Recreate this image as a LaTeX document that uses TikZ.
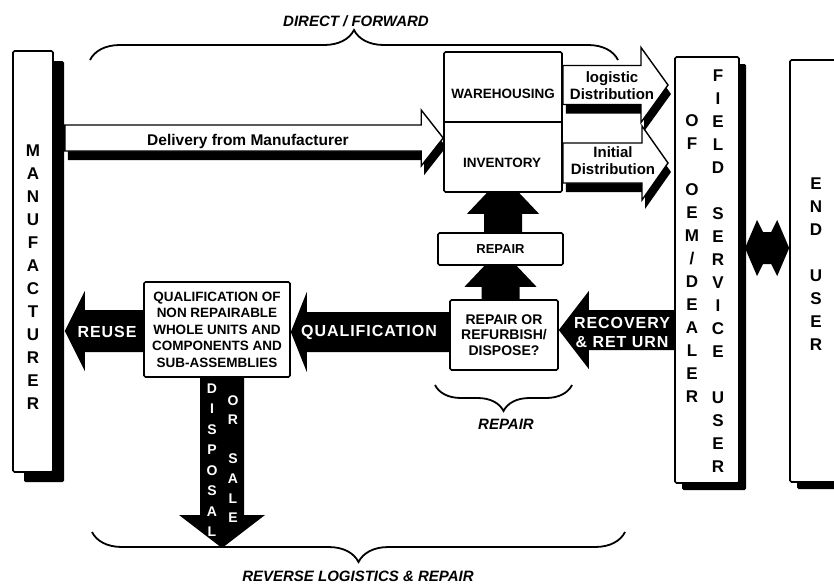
\documentclass[tikz,border=0pt]{standalone}
\usepackage{fontspec}
\setmainfont{Liberation Sans}
\newfontfamily\spacedsans[LetterSpace=6]{Liberation Sans}
\usetikzlibrary{calc,shadows,decorations.pathreplacing}
\pgfdeclarelayer{arrows}
\pgfsetlayers{arrows,main}

% horizontal block arrow: options, tail, tip, shaft half-width, head half-width, head length, dx, dy
\newcommand\hblock[8]{%
  \path[#1] let \p1=(#2), \p2=(#3), \n1={ifthenelse(\x2>\x1,1,-1)} in
    ({\x1+#7pt},{\y2-#8pt+#4pt})
    -- ({\x2-(\n1)*#6pt+#7pt},{\y2-#8pt+#4pt})
    -- ({\x2-(\n1)*#6pt+#7pt},{\y2-#8pt+#5pt})
    -- ({\x2+#7pt},{\y2-#8pt})
    -- ({\x2-(\n1)*#6pt+#7pt},{\y2-#8pt-#5pt})
    -- ({\x2-(\n1)*#6pt+#7pt},{\y2-#8pt-#4pt})
    -- ({\x1+#7pt},{\y2-#8pt-#4pt}) -- cycle;}
% vertical block arrow, same arguments
\newcommand\vblock[8]{%
  \path[#1] let \p1=(#2), \p2=(#3), \n1={ifthenelse(\y2>\y1,1,-1)} in
    ({\x2-#4pt+#7pt},{\y1-#8pt})
    -- ({\x2-#4pt+#7pt},{\y2-(\n1)*#6pt-#8pt})
    -- ({\x2-#5pt+#7pt},{\y2-(\n1)*#6pt-#8pt})
    -- ({\x2+#7pt},{\y2-#8pt})
    -- ({\x2+#5pt+#7pt},{\y2-(\n1)*#6pt-#8pt})
    -- ({\x2+#4pt+#7pt},{\y2-(\n1)*#6pt-#8pt})
    -- ({\x2+#4pt+#7pt},{\y1-#8pt}) -- cycle;}

\tikzset{
  box/.style={draw, line width=1.6pt, fill=white, rounded corners=1.5pt, inner sep=0pt},
  whitearrow/.style={draw, line width=1.4pt, fill=white, line join=miter},
  arrowshadow/.style={fill=black},
  blackarrow/.style={fill=black},
  vlet/.style={font=\bfseries\fontsize{17}{17}\selectfont, text height=12pt, text depth=0pt, inner sep=0pt},
  wlet/.style={font=\bfseries\fontsize{14}{14}\selectfont, text=white, text height=10pt, text depth=0pt, inner sep=0pt},
  boxtext/.style={font=\bfseries\fontsize{13.5}{16.5}\selectfont, align=center},
  arrowtext/.style={font=\spacedsans\bfseries\fontsize{16}{19}\selectfont, text=white, align=center, inner sep=0pt},
  disttext/.style={font=\bfseries\fontsize{15}{17}\selectfont, align=center, inner sep=0pt},
  bracelabel/.style={font=\bfseries\itshape\fontsize{15}{15}\selectfont, inner sep=0pt},
  bracedeco/.style={decorate, decoration={brace, amplitude=#1}, line width=1.8pt},
}

\begin{document}
\begin{tikzpicture}[x=1pt, y=-1pt]
\useasboundingbox (0,0) rectangle (834,584);
\clip (0,0) rectangle (834,584);

% ---------- braces and their captions
\draw[bracedeco=30pt] (90,60) -- (618,60);
\node[bracelabel] (fwdLbl) at (356,21) {DIRECT / FORWARD};
\draw[bracedeco=26pt] (572,385) -- (435,385);
\node[bracelabel] (repLbl) at (506,424) {REPAIR};
\draw[bracedeco=30pt] (625,532) -- (92,532);
\node[bracelabel] (revLbl) at (358,576) {REVERSE LOGISTICS \& REPAIR};

% ---------- boxes
\node[box, minimum width=40pt, minimum height=421pt,
      drop shadow={shadow xshift=11pt, shadow yshift=-10pt, fill=black, opacity=1}] (mfr) at (33,261.5) {};
\foreach \c [count=\i from 0] in {M,A,N,U,F,A,C,T,U,R,E,R}
  \node[vlet] (mfr\i) at (33,{150+23*\i}) {\c};
\coordinate (mfrEdge) at ($(mfr.east)+(11,0)$);

\node[box, minimum width=118pt, minimum height=140pt] (stock) at (503,122) {};
\draw[line width=1.6pt] (stock.west) -- (stock.east);
\node[boxtext] (whLbl) at (503,94) {WAREHOUSING};
\node[boxtext] (invLbl) at (502,163) {INVENTORY};

\node[box, boxtext, font=\bfseries\fontsize{13}{15}\selectfont,
      minimum width=125pt, minimum height=32pt] (repair) at (500.5,249) {REPAIR};
\node[box, boxtext, font=\bfseries\fontsize{14}{15.5}\selectfont,
      minimum width=108pt, minimum height=70pt] (rod) at (504,335) {REPAIR OR\\REFURBISH/\\DISPOSE?};
\node[box, boxtext, minimum width=146pt, minimum height=95pt] (qual) at (217,329.5)
  {QUALIFICATION OF\\NON REPAIRABLE\\WHOLE UNITS AND\\COMPONENTS AND\\SUB-ASSEMBLIES};

\node[box, minimum width=64pt, minimum height=426pt,
      drop shadow={shadow xshift=7pt, shadow yshift=-7pt, fill=black, opacity=1}] (field) at (707,270) {};
\foreach \c [count=\i from 0] in {O,F,{},O,E,M,/,D,E,A,L,E,R}
  \node[vlet] (oem\i) at (692,{120+23*\i}) {\c};
\foreach \c [count=\i from 0] in {F,I,E,L,D,{},S,E,R,V,I,C,E,{},U,S,E,R}
  \node[vlet] (fsu\i) at (718,{75+23*\i}) {\c};

\node[box, minimum width=62pt, minimum height=422pt,
      drop shadow={shadow xshift=7pt, shadow yshift=-7pt, fill=black, opacity=1}] (enduser) at (821,271) {};
\foreach \c [count=\i from 0] in {E,N,D,{},U,S,E,R}
  \node[vlet] (eu\i) at (816,{183+23*\i}) {\c};

% ---------- free ends of the block arrows
\coordinate (logTip) at (668,85);
\coordinate (initTip) at (668,163);
\coordinate (dispTip) at (222,548);
\coordinate (dblL) at (745,248);
\coordinate (dblR) at (enduser.west |- 0,248);

% ---------- block arrows (kept under the boxes)
\begin{pgfonlayer}{arrows}
  % forward flow: outlined arrows with a drop shadow
  \hblock{arrowshadow}{mfrEdge}{stock.west |- 0,138}{13}{28}{22}{3}{9}
  \hblock{whitearrow}{mfrEdge}{stock.west |- 0,138}{13}{28}{22}{0}{0}
  \hblock{arrowshadow}{stock.east}{logTip}{19.5}{37.5}{27}{3}{9}
  \hblock{whitearrow}{stock.east}{logTip}{19.5}{37.5}{27}{0}{0}
  \hblock{arrowshadow}{stock.east}{initTip}{20}{37}{26}{3}{9}
  \hblock{whitearrow}{stock.east}{initTip}{20}{37}{26}{0}{0}
  % reverse flow: solid arrows
  \hblock{blackarrow}{field.west}{rod.east |- 0,330}{20}{39}{30}{0}{0}
  \hblock{blackarrow}{rod.west}{qual.east |- 0,332}{20}{40}{16}{0}{0}
  \hblock{blackarrow}{qual.west}{mfrEdge |- 0,331}{21}{40}{20}{0}{0}
  \vblock{blackarrow}{qual.south}{dispTip}{22}{43}{33}{0}{0}
  \vblock{blackarrow}{rod.north}{$(repair.south)+(0,-17)$}{19}{36}{38}{0}{0}
  \vblock{blackarrow}{repair.north}{$(stock.south)+(0,-17)$}{19}{36}{38}{0}{0}
\end{pgfonlayer}

% two-way exchange with the end user
\fill (dblL) -- ($(dblL)+(12,-28)$) -- ($(dblL)+(18,-16)$) -- ($(dblR)+(-18,-16)$)
  -- ($(dblR)+(-12,-28)$) -- (dblR) -- ($(dblR)+(-12,28)$) -- ($(dblR)+(-18,16)$)
  -- ($(dblL)+(18,16)$) -- ($(dblL)+(12,28)$) -- cycle;

% ---------- arrow captions
\node[disttext, font=\bfseries\fontsize{15.5}{17}\selectfont] (delivLbl) at (248,141) {Delivery from Manufacturer};
\node[disttext] (logLbl) at (612,86) {logistic\\Distribution};
\node[disttext] (initLbl) at (613,161) {Initial\\Distribution};
\node[arrowtext] (recLbl) at (622,332) {RECOVERY\\\& RET URN};
\node[arrowtext] (qualLbl) at (369,332) {QUALIFICATION};
\node[arrowtext] (reuseLbl) at (107,332) {REUSE};
\foreach \c [count=\i from 0] in {D,I,S,P,O,S,A,L}
  \node[wlet] (disp\i) at (212,{388+20.5*\i}) {\c};
\foreach \c [count=\i from 0] in {O,R,{},S,A,L,E}
  \node[wlet] (sale\i) at (233,{400+19.6*\i}) {\c};
\end{tikzpicture}
\end{document}
